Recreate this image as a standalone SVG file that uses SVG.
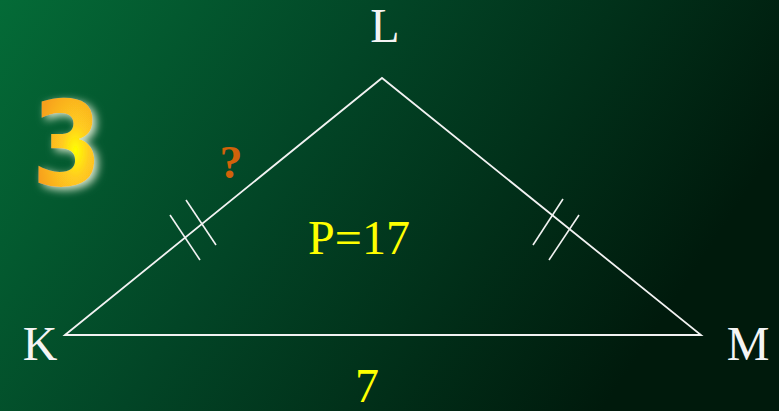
<svg xmlns="http://www.w3.org/2000/svg" width="779" height="411" viewBox="0 0 779 411">
<defs>
<linearGradient id="bg" x1="0" y1="0" x2="1" y2="0.35">
<stop offset="0" stop-color="#046b37"/>
<stop offset="0.45" stop-color="#024526"/>
<stop offset="1" stop-color="#001a0c"/>
</linearGradient>
<radialGradient id="gold" cx="0.62" cy="0.55" r="0.55">
<stop offset="0" stop-color="#ffff00"/>
<stop offset="0.35" stop-color="#ffcc20"/>
<stop offset="1" stop-color="#f7a01e"/>
</radialGradient>
<filter id="glow" x="-40%" y="-40%" width="180%" height="180%">
<feGaussianBlur in="SourceAlpha" stdDeviation="4" result="b"/>
<feOffset in="b" dx="4" dy="3" result="o"/>
<feFlood flood-color="#eef4dc" flood-opacity="0.9"/>
<feComposite in2="o" operator="in" result="g"/>
<feMerge><feMergeNode in="g"/><feMergeNode in="SourceGraphic"/></feMerge>
</filter>
<style>
.edge{stroke:#f2f2f2;stroke-width:1.8;fill:none}
.tick{stroke:#f2f2f2;stroke-width:1.6}
.lbl{font-family:"Liberation Serif","Times New Roman",serif;font-size:48px;fill:#f4f4f4}
.yel{font-family:"Liberation Serif","Times New Roman",serif;font-size:48px;fill:#ffff00}
</style>
</defs>
<rect width="779" height="411" fill="url(#bg)"/>
<g id="number3" filter="url(#glow)">
<text x="0" y="0" text-anchor="middle" transform="translate(67 185) scale(1.28 1.33)" font-family="Liberation Sans Narrow,DejaVu Sans Condensed,sans-serif" font-weight="bold" font-size="88" fill="url(#gold)">3</text>
</g>
<g id="connectors">
<polygon class="edge" points="65,335 382,78 701,335"/>
<line class="tick" x1="170" y1="215" x2="200" y2="260"/>
<line class="tick" x1="186" y1="200" x2="216" y2="245"/>
<line class="tick" x1="563" y1="199" x2="533" y2="245"/>
<line class="tick" x1="579" y1="215" x2="549" y2="260"/>
</g>
<g id="node-L"><text class="lbl" x="385" y="42" text-anchor="middle">L</text></g>
<g id="node-K"><text class="lbl" x="40" y="360" text-anchor="middle">K</text></g>
<g id="node-M"><text class="lbl" x="748" y="360" text-anchor="middle">M</text></g>
<g id="label-q"><text x="231" y="178" text-anchor="middle" font-family="Liberation Serif,serif" font-weight="bold" font-size="46" fill="#d2620a">?</text></g>
<g id="label-P"><text class="yel" x="359" y="254" text-anchor="middle">P=17</text></g>
<g id="label-7"><text class="yel" x="367" y="402" text-anchor="middle">7</text></g>
</svg>
